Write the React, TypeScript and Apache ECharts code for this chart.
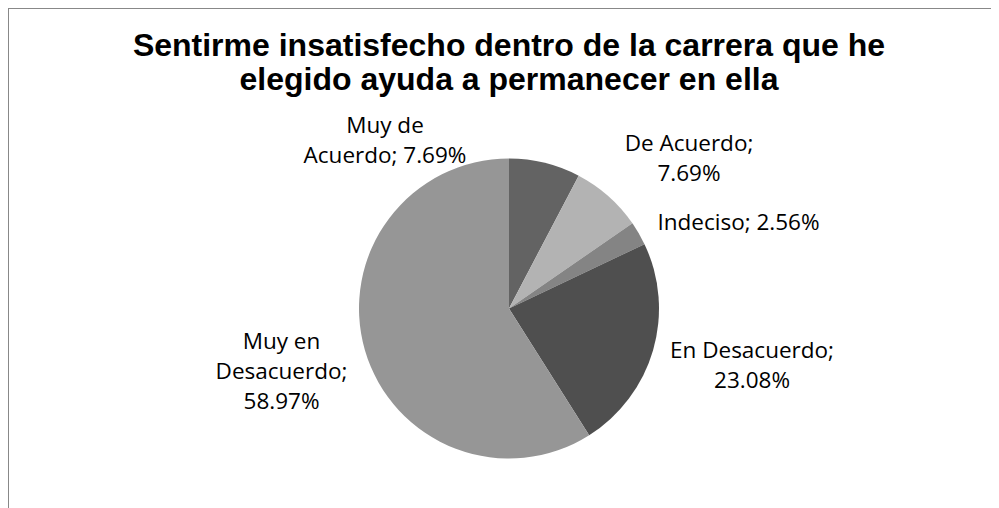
import React, { useEffect, useRef } from "react";
import * as echarts from "echarts";

const titleLines = [
  "Sentirme insatisfecho dentro de la carrera que he",
  "elegido ayuda a permanecer en ella",
];
const categories = ["Muy de Acuerdo", "De Acuerdo", "Indeciso", "En Desacuerdo", "Muy en Desacuerdo"];
const values = [7.69, 7.69, 2.56, 23.08, 58.97];
const wrappedNames = ["Muy de\nAcuerdo", "De Acuerdo", "Indeciso", "En Desacuerdo", "Muy en\nDesacuerdo"];
const valueSeparators = ["; ", ";\n", "; ", ";\n", ";\n"];
const sliceColors = ["#636363", "#b3b3b3", "#848484", "#4f4f4f", "#969696"];

// label block centres (chart pixels), as placed in the reference
const labelCenters: [number, number][] = [
  [376, 130],
  [680, 148],
  [729.5, 212],
  [743, 355],
  [272.5, 361],
];

export default function App() {
  const ref = useRef<HTMLDivElement>(null);
  useEffect(() => {
    if (!ref.current) return;
    const chart = echarts.init(ref.current, undefined, { renderer: "svg" });
    chart.setOption({
      animation: false,
      backgroundColor: "#ffffff",
      graphic: [
        {
          type: "text",
          x: 500,
          y: 19,
          style: {
            text: titleLines.join("\n"),
            textAlign: "center",
            textVerticalAlign: "top",
            fontFamily: "Liberation Sans, Arial, sans-serif",
            fontWeight: "bold",
            fontSize: 32,
            lineHeight: 34,
            fill: "#000000",
          },
        },
      ],
      series: [
        {
          type: "pie",
          center: [500, 299.5],
          radius: 150,
          startAngle: 90,
          clockwise: true,
          avoidLabelOverlap: false,
          itemStyle: { borderWidth: 0 },
          label: {
            show: true,
            position: "outside",
            color: "#000000",
            fontFamily: "Open Sans, sans-serif",
            fontSize: 22.5,
            lineHeight: 30,
            align: "center",
            formatter: (p: any) =>
              wrappedNames[p.dataIndex] + valueSeparators[p.dataIndex] + values[p.dataIndex].toFixed(2) + "%",
          },
          labelLine: { show: false },
          labelLayout: (p: any) => ({
            x: labelCenters[p.dataIndex][0],
            y: labelCenters[p.dataIndex][1],
            align: "center",
            verticalAlign: "middle",
          }),
          emphasis: { disabled: true },
          data: categories.map((name, i) => ({
            name,
            value: values[i],
            itemStyle: { color: sliceColors[i] },
          })),
        },
      ],
    });
    return () => chart.dispose();
  }, []);

  return (
    <div
      style={{
        width: 991,
        height: 500,
        boxSizing: "border-box",
        borderTop: "1px solid #888888",
        borderLeft: "1px solid #888888",
        overflow: "hidden",
      }}
    >
      <div ref={ref} style={{ width: 990, height: 499 }} />
    </div>
  );
}
